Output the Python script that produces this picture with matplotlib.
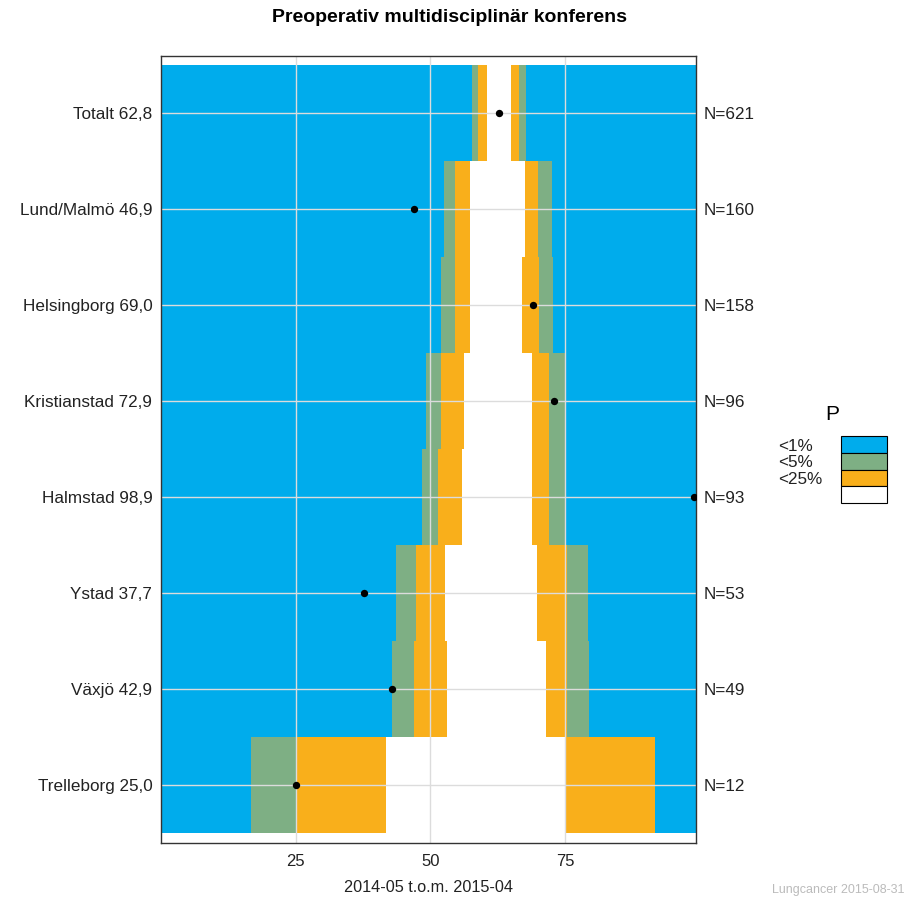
import matplotlib
matplotlib.use("Agg")
import matplotlib.pyplot as plt
from matplotlib.patches import Rectangle
import numpy as np

plt.rcParams['font.family'] = ['Liberation Sans', 'DejaVu Sans']

# ---- data (top to bottom) ----
units = ["Totalt", "Lund/Malmö", "Helsingborg", "Kristianstad", "Halmstad", "Ystad", "Växjö", "Trelleborg"]
values = [62.8, 46.9, 69.0, 72.9, 98.9, 37.7, 42.9, 25.0]
n_obs = [621, 160, 158, 96, 93, 53, 49, 12]
lo1 = [57.7, 52.6, 52.0, 49.1, 48.5, 43.6, 42.8, 16.75]
lo5 = [58.8, 54.6, 54.6, 52.0, 51.5, 47.4, 47.0, 25.1]
lo25 = [60.5, 57.4, 57.4, 56.3, 55.9, 52.8, 53.0, 41.75]
hi25 = [65.0, 67.5, 67.0, 68.8, 68.8, 69.8, 71.5, 75.2]
hi5 = [66.4, 70.0, 70.2, 72.0, 72.0, 75.4, 75.4, 91.7]
hi1 = [67.7, 72.6, 72.8, 75.1, 75.1, 79.2, 79.4, 91.7]
xticks = [25, 50, 75]
legend_labels = ["<1%", "<5%", "<25%", ""]
title = "Preoperativ multidisciplinär konferens"
xlabel = "2014-05 t.o.m. 2015-04"
caption = "Lungcancer 2015-08-31"

BLUE = "#00ACEC"
GREEN = "#7EAF84"
ORANGE = "#F9AF1B"
XMAX = 99.2

fig = plt.figure(figsize=(9.14, 8.98), dpi=100)
W, H = 914, 898
ax = fig.add_axes([160.7 / W, 1 - 843 / H, (695.7 - 160.7) / W, (843 - 55.7) / H])

k = len(units)
y = np.arange(k, 0, -1)
lo1a, lo5a, lo25a = np.array(lo1), np.array(lo5), np.array(lo25)
hi25a, hi5a, hi1a = np.array(hi25), np.array(hi5), np.array(hi1)

kw = dict(height=1.0, linewidth=0, zorder=1)
ax.barh(y, lo1a, left=0, color=BLUE, **kw)
ax.barh(y, lo5a - lo1a, left=lo1a, color=GREEN, **kw)
ax.barh(y, lo25a - lo5a, left=lo5a, color=ORANGE, **kw)
ax.barh(y, hi5a - hi25a, left=hi25a, color=ORANGE, **kw)
ax.barh(y, hi1a - hi5a, left=hi5a, color=GREEN, **kw)
ax.barh(y, 100 - hi1a, left=hi1a, color=BLUE, **kw)

for xv in xticks:
    ax.axvline(xv, color="#DCDCDC", lw=1.0, zorder=2)
for yv in y:
    ax.axhline(yv, color="#DCDCDC", lw=1.0, zorder=2)

ax.scatter(values, y, s=28, color="black", zorder=3, linewidths=0)

ax.set_xlim(0, XMAX)
ax.set_ylim(0.4, k + 0.6)
ax.set_xticks(xticks)
ax.set_xticklabels([str(t) for t in xticks], fontsize=12, color="#222222")
ax.set_yticks(y)
ax.set_yticklabels([f"{u} {v:.1f}".replace(".", ",") for u, v in zip(units, values)],
                   fontsize=12.3, color="#222222")
ax.tick_params(axis="y", length=0, pad=6)
ax.tick_params(axis="x", length=0, pad=8)
for s in ax.spines.values():
    s.set_color("#333333")
    s.set_linewidth(1.0)

ax2 = ax.twinx()
ax2.set_ylim(ax.get_ylim())
ax2.set_yticks(y)
ax2.set_yticklabels([f"N={n}" for n in n_obs], fontsize=12.3, color="#222222")
ax2.tick_params(length=0, pad=6)
for s in ax2.spines.values():
    s.set_visible(False)

ax.set_xlabel(xlabel, fontsize=11.7, color="#222222", labelpad=8)
fig.text(450 / W, 1 - 18 / H, title, ha="center", va="center", fontsize=14, fontweight="bold")

# legend (manual, figure coordinates)
fig.text(832 / W, 1 - 415 / H, "P", ha="center", va="center", fontsize=15)
box_cols = [BLUE, GREEN, ORANGE, "white"]
bx0, bx1 = 840.7, 887.3
by0, bh = 436.0, 16.8
for i, (c, lab) in enumerate(zip(box_cols, legend_labels)):
    top = by0 + i * bh
    fig.patches.append(Rectangle((bx0 / W, 1 - (top + bh) / H), (bx1 - bx0) / W, bh / H,
                                 transform=fig.transFigure, facecolor=c, edgecolor="black",
                                 linewidth=0.8))
    if lab:
        fig.text(778 / W, 1 - (top + 10) / H, lab, ha="left", va="center", fontsize=12.3, color="#222222")

fig.text(905 / W, 1 - 896 / H, caption, ha="right", va="bottom", fontsize=9, color="#BBBBBB")

fig.savefig("out.png", dpi=100)
